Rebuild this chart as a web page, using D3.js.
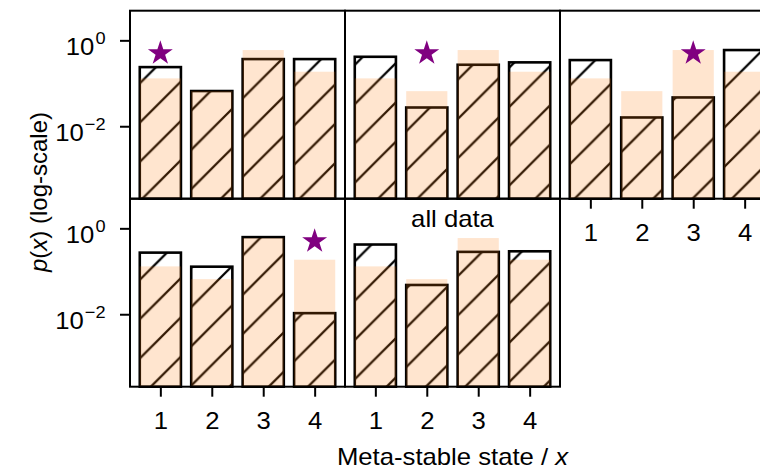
<!DOCTYPE html>
<html>
<head>
<meta charset="utf-8">
<script src="https://cdn.jsdelivr.net/npm/d3@7"></script>
<style>
  body { margin: 0; background: #fff; }
  svg { display: block; font-family: "Liberation Sans", Arial, sans-serif; }
</style>
</head>
<body>
<div id="chart"></div>
<script>
/**
 * sizes
 */
const WIDTH = 760;
const HEIGHT = 471;
const PANEL_W = 215;
const PANEL_H = 188;
const LEFT = 130;
const TOP = 10.7;
const FONT = 24;
const STRETCH = 1.07;
const HATCH = 39.3;

/**
 * data
 */
const states = [1, 2, 3, 4];
// shaded distribution, same in every panel
const reference = [0.130, 0.0656, 0.594, 0.186];
// hatched bars, one list per panel
const fromState1 = [0.238, 0.066, 0.366, 0.366];
const fromState2 = [0.414, 0.0273, 0.270, 0.307];
const fromState3 = [0.347, 0.0160, 0.0468, 0.594];
const fromState4 = [0.272, 0.128, 0.624, 0.0106];
const allData = [0.420, 0.048, 0.283, 0.292];
const starStates = [1, 2, 3, 4, null];
const starValue = 0.5;
const yTickValues = [1, 0.01];
const yDomain = [Math.pow(10, -3.687), Math.pow(10, 0.69)];
const xDomain = [0.41, 4.59];

// grid position of every panel
const panels = [
    {values: fromState1, star: starStates[0], col: 0, row: 0, yAxis: true,  xAxis: false},
    {values: fromState2, star: starStates[1], col: 1, row: 0, yAxis: false, xAxis: false},
    {values: fromState3, star: starStates[2], col: 2, row: 0, yAxis: false, xAxis: true},
    {values: fromState4, star: starStates[3], col: 0, row: 1, yAxis: true,  xAxis: true},
    {values: allData,    star: starStates[4], col: 1, row: 1, yAxis: false, xAxis: true, title: "all data"}
];

const svg = d3.select("#chart").append("svg")
    .attr("width", WIDTH)
    .attr("height", HEIGHT);

// "/" hatch, anchored to the page so it runs on across bars
const c = 26.6;
const pattern = svg.append("defs").append("pattern")
    .attr("id", "hatch")
    .attr("patternUnits", "userSpaceOnUse")
    .attr("width", HATCH)
    .attr("height", HATCH);
pattern.append("path")
    .attr("d", `M-2,${c + 2}L${c + 2},-2M${c - 2},${HATCH + 2}L${HATCH + 2},${c - 2}`)
    .attr("stroke", "#000")
    .attr("stroke-width", 2.2)
    .attr("fill", "none");

function stretchText(sel, x, y) {
    return sel.attr("transform", `translate(${x},${y}) scale(${STRETCH},1)`);
}

panels.forEach(function(p) {
    const left = LEFT + p.col * PANEL_W;
    const top = TOP + p.row * PANEL_H;
    const bottom = top + PANEL_H;

    const x = d3.scaleLinear().domain(xDomain).range([left, left + PANEL_W]);
    const y = d3.scaleLog().domain(yDomain).range([bottom, top]);
    const bw = x(0.8) - x(0);

    const g = svg.append("g");

    g.selectAll("rect.hatched")
        .data(p.values)
        .enter()
        .append("rect")
        .attr("class", "hatched")
        .attr("x", (d, i) => x(states[i]) - bw / 2)
        .attr("y", d => y(d))
        .attr("width", bw)
        .attr("height", d => bottom - y(d))
        .attr("fill", "url(#hatch)")
        .attr("stroke", "#000")
        .attr("stroke-width", 2.6);

    g.selectAll("rect.shade")
        .data(reference)
        .enter()
        .append("rect")
        .attr("class", "shade")
        .attr("x", (d, i) => x(states[i]) - bw / 2)
        .attr("y", d => y(d))
        .attr("width", bw)
        .attr("height", d => bottom - y(d))
        .attr("fill", "#ff7f0e")
        .attr("fill-opacity", 0.2);

    if (p.star != null) {
        g.append("path")
            .attr("d", d3.symbol(d3.symbolStar, 193)())
            .attr("transform", `translate(${x(p.star)},${y(starValue)})`)
            .attr("fill", "#800080");
    }

    if (p.title) {
        stretchText(g.append("text"), (left + left + PANEL_W) / 2, top + 28)
            .attr("text-anchor", "middle")
            .attr("font-size", FONT)
            .text(p.title);
    }

    if (p.xAxis) {
        const ax = g.append("g")
            .attr("transform", `translate(0,${bottom})`)
            .call(d3.axisBottom(x).tickValues(states).tickSize(10).tickFormat(d3.format("d")));
        ax.select(".domain").remove();
        ax.attr("font-family", null).attr("font-size", FONT);
        ax.selectAll("line").attr("stroke", "#000").attr("stroke-width", 2);
        ax.selectAll("text")
            .attr("y", 0)
            .attr("dy", null)
            .attr("fill", "#000")
            .attr("transform", `translate(0,42) scale(${STRETCH},1)`);
    }

    if (p.yAxis) {
        const ay = g.append("g")
            .attr("transform", `translate(${left},0)`)
            .call(d3.axisLeft(y).tickValues(yTickValues).tickSize(10));
        ay.select(".domain").remove();
        ay.attr("font-family", null).attr("font-size", FONT);
        ay.selectAll("line").attr("stroke", "#000").attr("stroke-width", 2);
        ay.selectAll("text")
            .attr("x", 0)
            .attr("dy", null)
            .attr("fill", "#000")
            .attr("text-anchor", "end")
            .attr("transform", `translate(-24.5,14.5) scale(${STRETCH},1)`)
            .text(null)
            .each(function(d) {
                const t = d3.select(this);
                t.append("tspan").text("10");
                t.append("tspan")
                    .attr("font-size", 17)
                    .attr("dx", 1)
                    .attr("dy", -11.7)
                    .text(String(Math.round(Math.log10(d))).replace("-", "\u2212"));
            });
    }

    g.append("rect")
        .attr("x", left)
        .attr("y", top)
        .attr("width", PANEL_W)
        .attr("height", PANEL_H)
        .attr("fill", "none")
        .attr("stroke", "#000")
        .attr("stroke-width", 2);
});

// axis titles
const xl = stretchText(svg.append("text"), LEFT + 1.5 * PANEL_W, 465)
    .attr("text-anchor", "middle")
    .attr("font-size", FONT);
xl.append("tspan").text("Meta-stable state / ");
xl.append("tspan").attr("font-style", "italic").text("x");

const yl = svg.append("text")
    .attr("transform", "translate(47,192) rotate(-90)")
    .attr("text-anchor", "middle")
    .attr("font-size", FONT);
yl.append("tspan").attr("font-style", "italic").text("p");
yl.append("tspan").text("(");
yl.append("tspan").attr("font-style", "italic").text("x");
yl.append("tspan").text(") (log-scale)");
</script>
</body>
</html>
